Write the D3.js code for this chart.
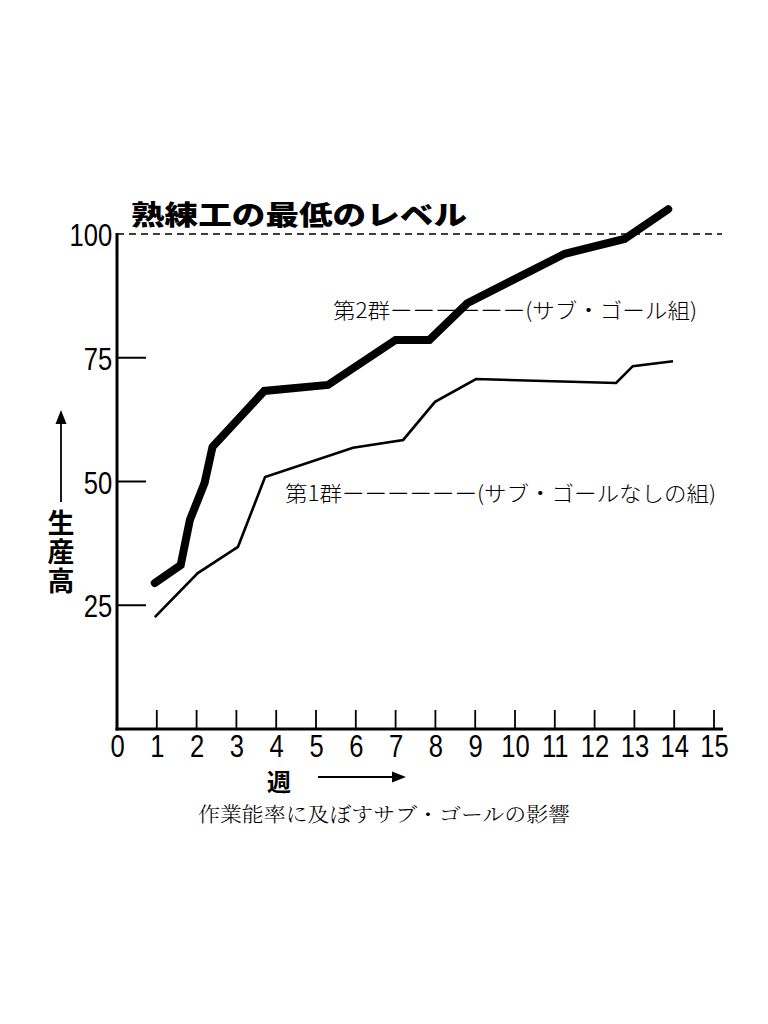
<!DOCTYPE html>
<html><head><meta charset="utf-8">
<script src="https://cdn.jsdelivr.net/npm/d3@7"></script>
<style>
html,body{margin:0;padding:0;background:#fff;}
svg{display:block;}
</style></head>
<body>
<svg id="c" width="768" height="1024"></svg>
<script>
// ---- data ----
const group2Weeks  = [0.95, 1.6, 1.83, 2.2, 2.4, 3.7, 5.3, 7.0, 7.85, 8.8, 11.25, 12.75, 13.85];
const group2Values = [29.5, 33.1, 42.2, 49.7, 57.0, 68.3, 69.5, 78.6, 78.6, 86.0, 96.0, 99.0, 105.0];
const group1Weeks  = [0.95, 2.03, 3.04, 3.72, 5.93, 7.19, 7.99, 9.02, 12.54, 12.96, 13.97];
const group1Values = [22.6, 31.5, 36.8, 50.9, 56.8, 58.4, 66.1, 70.7, 69.9, 73.3, 74.3];
const xTicks = [0,1,2,3,4,5,6,7,8,9,10,11,12,13,14,15];
const yTicks = [25,50,75,100];
const skilledLevel = 100;
const titleText = "熟練工の最低のレベル";
const group2Label = "第2群ーーーーーー(サブ・ゴール組)";
const group1Label = "第1群ーーーーーー(サブ・ゴールなしの組)";
const yLabel = "生産高";
const xLabel = "週";
const caption = "作業能率に及ぼすサブ・ゴールの影響";

// ---- drawing ----
const svg = d3.select("#c");
const x = d3.scaleLinear().domain([0,15]).range([117,714]);
const y = d3.scaleLinear().domain([0,100]).range([729,234]);
const jp = "'Noto Sans CJK JP', sans-serif";
const num = "'Liberation Sans', Arial, sans-serif";

// dashed skilled level line
svg.append("line")
  .attr("x1", x(0)).attr("x2", 722)
  .attr("y1", y(skilledLevel)).attr("y2", y(skilledLevel))
  .attr("stroke","#000").attr("stroke-width",1.6)
  .attr("stroke-dasharray","7,5");

// axes
const xAxis = d3.axisBottom(x).tickValues(xTicks).tickSize(0).tickFormat(d3.format("d"));
const gx = svg.append("g").attr("transform",`translate(0,${y(0)})`).call(xAxis);
gx.select(".domain").remove();
gx.selectAll(".tick text").attr("font-family",num).attr("font-size",32).attr("fill","#000")
  .attr("dy",null).attr("y",28).attr("transform","scale(0.8,1)");
svg.selectAll(".xt").data(xTicks.filter(d=>d>0)).join("line")
  .attr("class","xt").attr("x1",d=>x(d)).attr("x2",d=>x(d))
  .attr("y1",y(0)).attr("y2",y(0)-19).attr("stroke","#000").attr("stroke-width",1.8);

const yAxis = d3.axisLeft(y).tickValues(yTicks).tickSize(0).tickFormat(d3.format("d"));
const gy = svg.append("g").attr("transform",`translate(${x(0)},0)`).call(yAxis);
gy.select(".domain").remove();
gy.selectAll(".tick text").attr("font-family",num).attr("font-size",32).attr("fill","#000")
  .attr("x",-6).attr("dy","0.36em").attr("transform","scale(0.8,1)");
svg.selectAll(".yt").data(yTicks.filter(d=>d<100)).join("line")
  .attr("class","yt").attr("x1",x(0)).attr("x2",x(0)+29)
  .attr("y1",d=>y(d)).attr("y2",d=>y(d)).attr("stroke","#000").attr("stroke-width",2);

svg.append("line").attr("x1",x(0)).attr("x2",x(0)).attr("y1",y(100)-1).attr("y2",y(0)+1.5)
  .attr("stroke","#000").attr("stroke-width",3);
svg.append("line").attr("x1",x(0)-1.5).attr("x2",723).attr("y1",y(0)).attr("y2",y(0))
  .attr("stroke","#000").attr("stroke-width",3);

// lines
const line = d3.line().x(d=>x(d[0])).y(d=>y(d[1]));
svg.append("path").datum(d3.zip(group1Weeks, group1Values)).attr("d",line)
  .attr("fill","none").attr("stroke","#000").attr("stroke-width",2.6).attr("stroke-linejoin","miter");
svg.append("path").datum(d3.zip(group2Weeks, group2Values)).attr("d",line)
  .attr("fill","none").attr("stroke","#000").attr("stroke-width",8).attr("stroke-linecap","round").attr("stroke-linejoin","miter");

// title
svg.append("text").attr("x",131).attr("y",225).text(titleText)
  .attr("font-family",jp).attr("font-weight",900).attr("font-size",27)
  .attr("textLength",336).attr("lengthAdjust","spacingAndGlyphs");

// group labels
svg.append("text").attr("x",333).attr("y",318).text(group2Label)
  .attr("font-family",jp).attr("font-weight",300).attr("font-size",21)
  .attr("textLength",364).attr("lengthAdjust","spacingAndGlyphs");
svg.append("text").attr("x",285).attr("y",501).text(group1Label)
  .attr("font-family",jp).attr("font-weight",300).attr("font-size",21)
  .attr("textLength",431).attr("lengthAdjust","spacingAndGlyphs");

// y label with arrow
svg.append("line").attr("x1",61).attr("x2",61).attr("y1",502).attr("y2",420)
  .attr("stroke","#000").attr("stroke-width",1.8);
svg.append("path").attr("d","M61,410 L55.5,424 L66.5,424 Z").attr("fill","#000");
svg.append("text").attr("x",61).attr("y",509).text(yLabel)
  .attr("writing-mode","tb").style("writing-mode","vertical-rl")
  .attr("letter-spacing",2)
  .attr("font-family",jp).attr("font-weight",700).attr("font-size",27);

// x label with arrow
svg.append("text").attr("x",279).attr("y",791).attr("text-anchor","middle").text(xLabel)
  .attr("font-family",jp).attr("font-weight",700).attr("font-size",24);
svg.append("line").attr("x1",318).attr("x2",396).attr("y1",777).attr("y2",777)
  .attr("stroke","#000").attr("stroke-width",1.8);
svg.append("path").attr("d","M406,777 L392,771.5 L392,782.5 Z").attr("fill","#000");

// caption
svg.append("text").attr("x",198).attr("y",822).text(caption)
  .attr("fill","#000")
  .attr("font-family","'Noto Serif CJK JP','Noto Sans CJK JP',serif").attr("font-weight",300).attr("font-size",20)
  .attr("textLength",372).attr("lengthAdjust","spacingAndGlyphs");
</script>
</body></html>
